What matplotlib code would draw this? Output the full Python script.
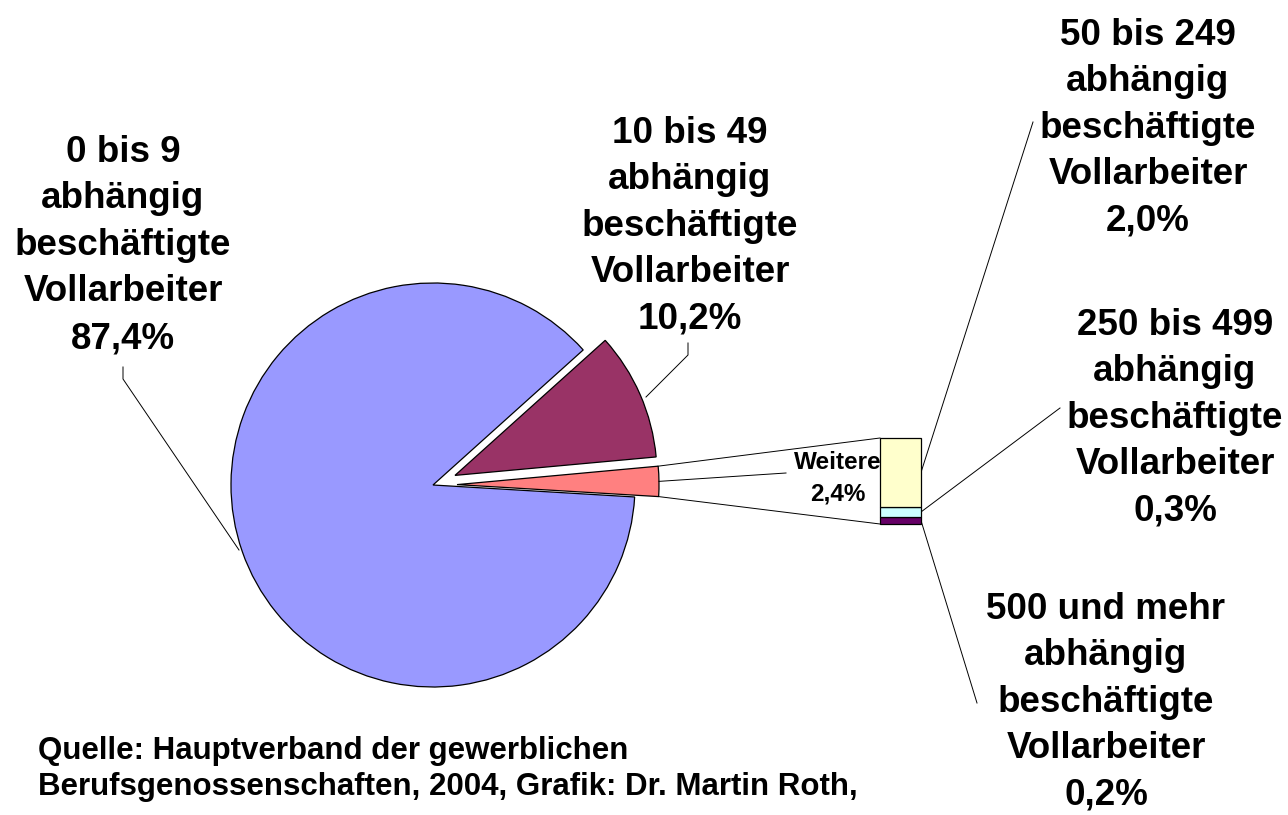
import numpy as np
import matplotlib
matplotlib.use('Agg')
import matplotlib.pyplot as plt

# ---------------------------------------------------------
# data
# ---------------------------------------------------------
pie_labels = ['Weitere\n2,4%',
              '10 bis 49\nabhängig\nbeschäftigte\nVollarbeiter\n10,2%',
              '0 bis 9\nabhängig\nbeschäftigte\nVollarbeiter\n87,4%']
pie_values = [2.4, 10.2, 87.4]
pie_colors = ['#FF8080', '#993366', '#9999FF']

# stacked bar for "Weitere", bottom to top
bar_labels = ['500 und mehr\nabhängig\nbeschäftigte\nVollarbeiter\n0,2%',
              '250 bis 499\nabhängig\nbeschäftigte\nVollarbeiter\n0,3%',
              '50 bis 249\nabhängig\nbeschäftigte\nVollarbeiter\n2,0%']
bar_values = [0.2, 0.3, 2.0]
bar_colors = ['#660066', '#CCFFFF', '#FFFFCC']

source = ('Quelle: Hauptverband der gewerblichen\n'
          'Berufsgenossenschaften, 2004, Grafik: Dr. Martin Roth,')

# ---------------------------------------------------------
# layout (pixel space, y up)
# ---------------------------------------------------------
W, H = 1288, 815
pie_center = (433, H - 485)
pie_radius = 202
explode = [24, 24, 0]
start_angle = -3.4

bar_x = 900.5
bar_w = 41
bar_bottom = H - 524
px_per_pct = 86 / sum(bar_values)

plt.rcParams['font.family'] = ['Liberation Sans', 'DejaVu Sans']
plt.rcParams['font.weight'] = 'bold'

fig = plt.figure(figsize=(W / 100, H / 100), dpi=100)
ax = fig.add_axes([0, 0, 1, 1])

wedges, _ = ax.pie(pie_values, explode=explode, colors=pie_colors,
                   startangle=start_angle, center=pie_center,
                   radius=pie_radius,
                   wedgeprops=dict(edgecolor='black', linewidth=0.9))

bottoms = bar_bottom + np.concatenate([[0], np.cumsum(bar_values)[:-1]]) * px_per_pct
bars = ax.bar([bar_x] * len(bar_values), np.array(bar_values) * px_per_pct,
              bottom=bottoms, width=bar_w, color=bar_colors,
              edgecolor='black', linewidth=0.9, zorder=3)

ax.set_xlim(0, W)
ax.set_ylim(0, H)
ax.set_aspect('auto')
ax.axis('off')


def pt(x, y):
    return x, H - y


# connectors pie -> bar
w = wedges[0]
cx, cy = w.center
r = w.r
top_corner = (cx + r * np.cos(np.radians(w.theta2)), cy + r * np.sin(np.radians(w.theta2)))
bot_corner = (cx + r * np.cos(np.radians(w.theta1)), cy + r * np.sin(np.radians(w.theta1)))
bar_left = bar_x - bar_w / 2
bar_top = bar_bottom + sum(bar_values) * px_per_pct
ax.plot([top_corner[0], bar_left], [top_corner[1], bar_top], color='black', lw=0.7)
ax.plot([bot_corner[0], bar_left], [bot_corner[1], bar_bottom], color='black', lw=0.7)

# Weitere label + leader (y = baseline of last line)
mid = np.radians((w.theta1 + w.theta2) / 2)
ax.plot([cx + r * np.cos(mid), 786], [cy + r * np.sin(mid), H - 473], color='black', lw=0.7)
ax.text(*pt(838, 500), pie_labels[0], ha='center', va='baseline',
        fontsize=17.5, fontweight='bold', linespacing=1.45, zorder=5)

lbl = dict(ha='center', va='baseline', fontsize=26.5, fontweight='bold', linespacing=1.43)

# big slices
ax.text(*pt(690, 329), pie_labels[1], **lbl)
ax.plot(*zip(pt(688, 343), pt(688, 355), pt(646, 397)), color='black', lw=0.7)
ax.text(*pt(123, 348), pie_labels[2], **lbl)
ax.plot(*zip(pt(123, 367), pt(123, 379), pt(239, 550)), color='black', lw=0.7)

# bar labels
bar_right = bar_x + bar_w / 2
label_pos = [(1106, 805), (1175, 521), (1148, 231)]
leader_ends = [pt(977, 703), pt(1060, 408), pt(1033, 122)]
for b, text, (lx, ly), end in zip(bars, bar_labels, label_pos, leader_ends):
    ymid = b.get_y() + b.get_height() / 2
    ax.plot([bar_right, end[0]], [ymid, end[1]], color='black', lw=0.7)
    ax.text(*pt(lx, ly), text, **lbl)

ax.text(*pt(38, 795), source, ha='left', va='baseline', fontsize=22.5,
        fontweight='bold', linespacing=1.28)

fig.savefig('out.png', dpi=100)
